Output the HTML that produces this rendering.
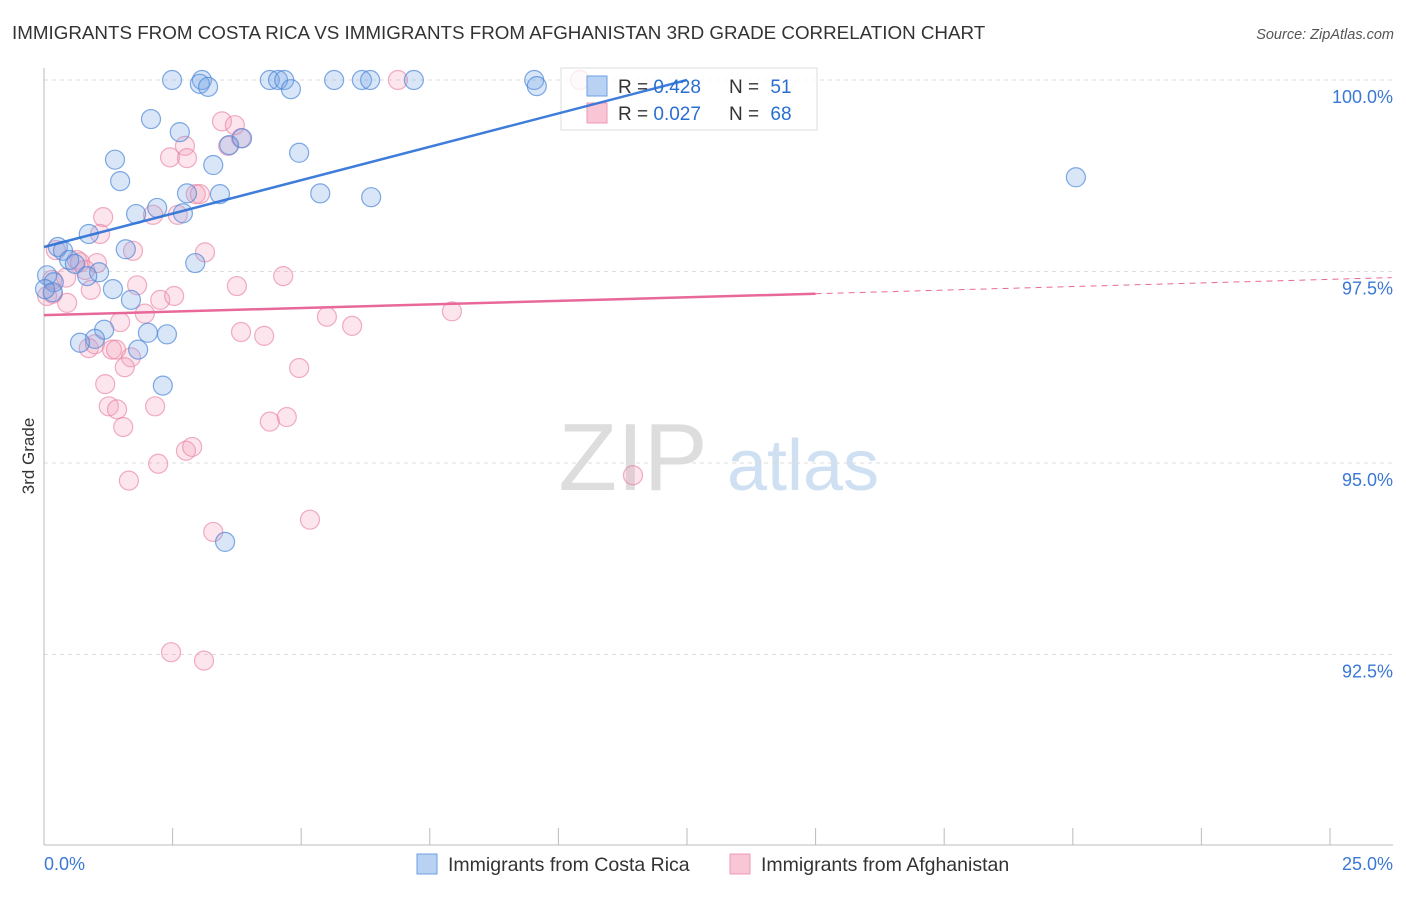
<!DOCTYPE html>
<html><head><meta charset="utf-8"><style>
body{margin:0;background:#fff;font-family:"Liberation Sans",sans-serif;}
svg text{font-family:"Liberation Sans",sans-serif;}
</style></head><body>
<svg id="chart" width="1406" height="892" xmlns="http://www.w3.org/2000/svg">
<text x="12" y="39" font-size="18.8" fill="#333">IMMIGRANTS FROM COSTA RICA VS IMMIGRANTS FROM AFGHANISTAN 3RD GRADE CORRELATION CHART</text>
<text x="1394" y="39" font-size="14.5" fill="#555" text-anchor="end" font-style="italic">Source: ZipAtlas.com</text>
<text transform="translate(34,456) rotate(-90)" font-size="17" fill="#333" text-anchor="middle">3rd Grade</text>
<g>
<text x="633" y="490" font-size="96" fill="#ddd" text-anchor="middle" font-family="Liberation Serif,serif">ZIP</text>
<text x="803" y="490" font-size="72" fill="#cfe0f3" text-anchor="middle">atlas</text>
</g>
<g id="grid"></g><g id="axes"></g><g id="pts"></g>
<g>
<rect x="561" y="68" width="256" height="62" fill="rgba(255,255,255,0.75)" stroke="#ddd"/>
<rect x="587" y="76" width="20" height="20" fill="#b9d2f3" stroke="#6d9fe0"/>
<text x="618" y="93" font-size="19" fill="#333">R = <tspan fill="#2a6fd0">0.428</tspan></text>
<text x="729" y="93" font-size="19" fill="#333">N = <tspan fill="#2a6fd0" dx="6">51</tspan></text>
<rect x="587" y="103" width="20" height="20" fill="#f9c6d6" stroke="#ec98b4"/>
<text x="618" y="120" font-size="19" fill="#333">R = <tspan fill="#2a6fd0">0.027</tspan></text>
<text x="729" y="120" font-size="19" fill="#333">N = <tspan fill="#2a6fd0" dx="6">68</tspan></text>
</g>
<g id="lines" opacity="1"></g>
<g>
<rect x="417" y="854" width="20" height="20" fill="#b9d2f3" stroke="#6d9fe0"/>
<text x="448" y="871" font-size="19.5" fill="#333">Immigrants from Costa Rica</text>
<rect x="730" y="854" width="20" height="20" fill="#f9c6d6" stroke="#ec98b4"/>
<text x="761" y="871" font-size="19.5" fill="#333">Immigrants from Afghanistan</text>
</g>
</svg>
<script>
const xTicks=[0,2.5,5,7.5,10,12.5,15,17.5,20,22.5,25];
const yTicks=[100,97.5,95,92.5];
const yTickLabels=["100.0%","97.5%","95.0%","92.5%"];
const xEndLabels=["0.0%","25.0%"];
const blueX=[2.49,3.07,3.03,3.19,4.39,4.55,4.67,4.80,5.64,6.18,6.34,7.19,9.53,9.58,2.08,2.64,1.38,3.29,3.60,3.85,4.96,1.48,2.78,3.42,5.37,6.36,20.06,1.79,2.20,2.70,0.87,0.27,0.37,1.59,0.49,0.60,1.07,0.84,2.94,0.06,0.19,1.34,1.69,0.17,1.17,2.02,2.39,0.99,0.70,1.83,2.31,3.52,0.02];
const blueY=[100,100,99.95,99.91,100,100,100,99.88,100,100,100,100,100,99.92,99.49,99.32,98.96,98.89,99.15,99.24,99.05,98.68,98.52,98.51,98.52,98.47,98.73,98.25,98.33,98.26,97.99,97.82,97.77,97.79,97.65,97.60,97.49,97.44,97.61,97.45,97.36,97.27,97.13,97.23,96.74,96.70,96.68,96.62,96.57,96.48,96.01,93.97,97.27];
const pinkX=[6.88,10.42,3.46,3.71,3.83,2.74,3.58,2.45,2.78,2.95,3.03,1.15,2.12,2.60,1.09,0.23,1.73,3.13,0.64,0.70,1.03,0.80,0.43,4.65,3.75,1.81,0.16,0.06,0.17,0.91,0.45,2.26,2.53,1.96,1.48,7.93,5.50,5.99,3.83,4.28,0.87,0.99,1.32,1.40,1.69,1.57,4.96,1.19,1.26,1.42,2.16,1.54,4.39,4.72,2.76,2.88,2.22,1.65,11.45,3.29,5.17,2.47,3.11];
const pinkY=[100,100,99.46,99.41,99.24,99.14,99.14,98.99,98.98,98.51,98.51,98.21,98.24,98.24,97.99,97.78,97.77,97.75,97.65,97.62,97.61,97.52,97.42,97.44,97.31,97.32,97.39,97.18,97.21,97.26,97.09,97.13,97.18,96.95,96.84,96.98,96.91,96.79,96.71,96.66,96.50,96.55,96.48,96.48,96.38,96.25,96.24,96.03,95.74,95.70,95.74,95.47,95.54,95.60,95.16,95.21,94.99,94.77,94.84,94.10,94.26,92.53,92.42];
const blueLine=[[0,97.82],[12.5,100]];
const pinkLine=[[0,96.93],[15,97.21]];
const pinkDash=[[15,97.21],[26.2,97.42]];
const NS="http://www.w3.org/2000/svg";
const sx=v=>44+v*51.44, sy=v=>80+(100-v)*76.6;
function mk(tag,attrs,parent){const e=document.createElementNS(NS,tag);for(const k in attrs)e.setAttribute(k,attrs[k]);document.getElementById(parent).appendChild(e);return e;}
yTicks.forEach((t,i)=>{
 const g=mk('line',{x1:44,x2:1393,y1:sy(t),y2:sy(t),stroke:'#ddd','stroke-dasharray':'4,4'},'grid');
 
 
 const l=mk('text',{x:1393,y:sy(t)+23,'font-size':18,fill:'#3b78d4','text-anchor':'end'},'axes');l.textContent=yTickLabels[i];
 
 
});
const ax=mk('line',{x1:44,x2:44,y1:68,y2:845,stroke:'#bbb'},'axes');


const bx=mk('line',{x1:44,x2:1393,y1:845,y2:845,stroke:'#bbb'},'axes');


xTicks.forEach(t=>{const e=mk('line',{x1:sx(t),x2:sx(t),y1:828,y2:845,stroke:'#bbb'},'axes');
 
 });
[[0,'start',44],[1,'end',1393]].forEach(([i,a,x])=>{const e=mk('text',{x:x,y:870,'font-size':18,fill:'#3b78d4','text-anchor':a},'axes');e.textContent=xEndLabels[i];
 
 });
pinkX.forEach((x,i)=>{const c=mk('circle',{cx:sx(x),cy:sy(pinkY[i]),r:9.5,fill:'rgba(244,160,188,0.28)',stroke:'rgba(232,130,165,0.65)','stroke-width':1.2},'pts');
 
 });
blueX.forEach((x,i)=>{const c=mk('circle',{cx:sx(x),cy:sy(blueY[i]),r:9.5,fill:'rgba(120,165,230,0.28)',stroke:'rgba(74,134,216,0.7)','stroke-width':1.2},'pts');
 
 });
const bl=mk('line',{x1:sx(blueLine[0][0]),y1:sy(blueLine[0][1]),x2:sx(blueLine[1][0]),y2:sy(blueLine[1][1]),stroke:'rgba(42,111,214,0.9)','stroke-width':2.5},'lines');


const pl=mk('line',{x1:sx(pinkLine[0][0]),y1:sy(pinkLine[0][1]),x2:sx(pinkLine[1][0]),y2:sy(pinkLine[1][1]),stroke:'#e8689a','stroke-width':2.5},'lines');


const pd=mk('line',{x1:sx(pinkDash[0][0]),y1:sy(pinkDash[0][1]),x2:sx(pinkDash[1][0]),y2:sy(pinkDash[1][1]),stroke:'#e8689a','stroke-width':1,'stroke-dasharray':'6,5'},'lines');


</script>
</body></html>
